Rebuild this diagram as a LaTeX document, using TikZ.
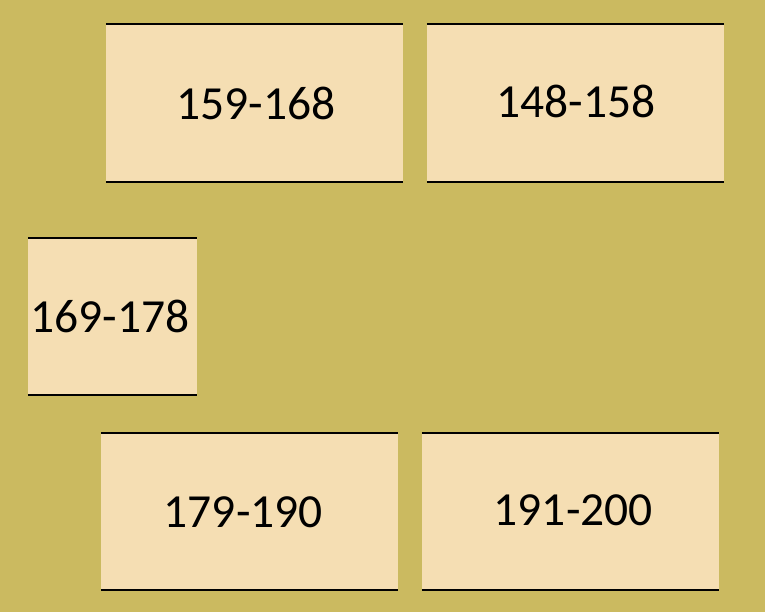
\documentclass[tikz,border=0pt]{standalone}
\usepackage{fontspec}
\setmainfont{Carlito}
\definecolor{bgolive}{HTML}{CBBA60}
\definecolor{wheatfill}{HTML}{F5DEB3}
\begin{document}
\begin{tikzpicture}[x=1pt,y=-1pt,
  rangebox/.style={fill=wheatfill, inner sep=0pt, minimum width=297pt, minimum height=158pt},
  rangetext/.style={inner sep=0pt, font=\fontsize{47.5}{50}\selectfont, text=black},
  edge/.style={draw=black, line width=2pt}]
\fill[bgolive] (0,0) rectangle (765,612);
\useasboundingbox (0,0) rectangle (765,612);
\node[rangebox] (a) at (254.5,103) {};
\node[rangebox] (b) at (575.5,103) {};
\node[rangebox, minimum width=169pt, minimum height=157pt] (c) at (112.5,316.5) {};
\node[rangebox, minimum height=157pt] (d) at (249.5,511.5) {};
\node[rangebox, minimum height=157pt] (e) at (570.5,511.5) {};
\foreach \n in {a,b,c,d,e}{
  \draw[edge] (\n.north west) -- (\n.north east);
  \draw[edge] (\n.south west) -- (\n.south east);
}
\node[rangetext] (ta) at (255.8,103.8) {159-168};
\node[rangetext] (tb) at (575.8,101.3) {148-158};
\node[rangetext] (tc) at (110,316) {169-178};
\node[rangetext] (td) at (243.3,512) {179-190};
\node[rangetext] (te) at (573.3,510) {191-200};
\end{tikzpicture}
\end{document}
